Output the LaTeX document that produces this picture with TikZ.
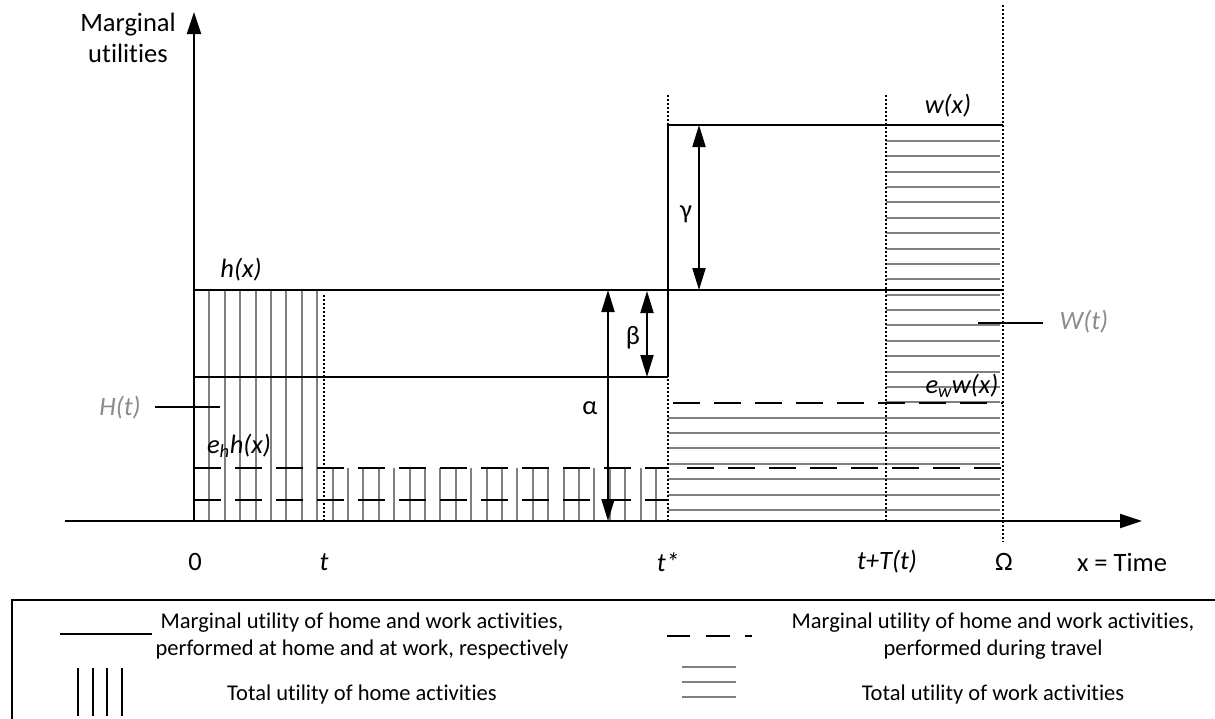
\documentclass[tikz,border=0pt]{standalone}
\usepackage{fontspec}
\setmainfont{Carlito}[Ligatures={NoCommon,NoContextual,NoRequired}]
\usetikzlibrary{arrows.meta}
\definecolor{hatch}{RGB}{128,128,128}
\definecolor{lbl}{RGB}{140,140,140}
\begin{document}
\begin{tikzpicture}[x=1pt,y=-1pt,
  ax/.style={line width=2pt,-{Triangle[width=14pt,length=22pt]}},
  dbl/.style={line width=2pt,{Triangle[width=13pt,length=22pt]}-{Triangle[width=13pt,length=22pt]}},
  mu/.style={line width=1.8pt},
  trav/.style={line width=1.8pt,dash pattern=on 27pt off 14pt},
  hv/.style={hatch,line width=2pt},
  dotl/.style={line width=1.6pt,dash pattern=on 2pt off 2pt},
  lab/.style={font=\fontsize{26.5}{31}\selectfont,inner sep=0pt},
  ilab/.style={font=\fontsize{26.5}{31}\selectfont\itshape,inner sep=0pt},
  leg/.style={font=\fontsize{22.5}{27}\selectfont,inner sep=0pt,align=center}]
\useasboundingbox (0,0) rectangle (1215,718);
% hatching home
\foreach \k in {1,...,8} \draw[hv] ({194+15.4*\k},290) -- ({194+15.4*\k},521);
\foreach \k in {9,...,30} \draw[hv] ({194+15.4*\k},468) -- ({194+15.4*\k},521);
% hatching work
\foreach \k in {0,...,17} \draw[hv] (886,{141+15.37*\k}) -- (1000,{141+15.37*\k});
\foreach \k in {18,...,24} \draw[hv] (668,{141+15.37*\k}) -- (1000,{141+15.37*\k});
% marginal utility lines
\draw[mu] (194,290) -- (1003,290);
\draw[mu] (194,377) -- (668,377);
\draw[mu] (668,125) -- (1003,125);
\draw[mu] (668,125) -- (668,377);
% travel lines
\draw[trav] (194,468) -- (668,468);
\draw[trav] (194,500) -- (668,500);
\draw[trav] (673,403) -- (1003,403);
\draw[trav] (687,468) -- (1003,468);
% dotted verticals
\draw[dotl] (324,295) -- (324,521);
\draw[dotl] (668,95) -- (668,521);
\draw[dotl] (886,95) -- (886,521);
\draw[dotl] (1003,5) -- (1003,542);
% axes
\coordinate (o) at (194,521);
\coordinate (ytip) at (194,12);
\coordinate (xstart) at (65,521);
\coordinate (xtip) at (1142,521);
\draw[ax] (o) -- (ytip);
\draw[ax] (xstart) -- (xtip);
% measure arrows
\coordinate (a1) at (608,290); \coordinate (a2) at (608,521);
\coordinate (b1) at (647,291); \coordinate (b2) at (647,377);
\coordinate (g1) at (699,125); \coordinate (g2) at (699,290);
\draw[dbl] (a1) -- (a2);
\draw[dbl] (b1) -- (b2);
\draw[dbl] (g1) -- (g2);
\node[lab] (alpha) at (590,408) {α};
\node[lab] (beta) at (633,338) {β};
\node[lab] (gamma) at (686,214) {γ};
% labels
\node[lab,align=center] (ylab) at (128,38) {Marginal\\utilities};
\node[ilab] (hx) at (241,270) {h(x)};
\node[ilab] (wx) at (948,106) {w(x)};
\node[ilab] (ehhx) at (239,446) {e\textsubscript{h}h(x)};
\node[ilab] (ewwx) at (962,386) {e\textsubscript{w}w(x)};
\node[ilab,text=lbl] (Ht) at (120,408) {H(t)};
\node[ilab,text=lbl] (Wt) at (1084,322) {W(t)};
\coordinate (Hs) at (155,407);
\coordinate (Hl) at (220,407);
\coordinate (Wl) at (978,323);
\coordinate (Ws) at (1043,323);
\draw[line width=1.6pt] (Hs) -- (Hl);
\draw[line width=1.6pt] (Wl) -- (Ws);
% tick labels
\node[lab] (t0) at (195,562) {0};
\node[ilab] (tt) at (324,562) {t};
\node[ilab] (ts) at (668,562) {t*};
\node[ilab] (tT) at (887,562) {t+T(t)};
\node[lab] (om) at (1004,562) {Ω};
\node[lab] (xt) at (1122,562) {x = Time};
% legend
\draw[line width=1.8pt] (12,600) rectangle (1230,740);
\draw[line width=1.8pt] (60,634) -- (152,634);
\foreach \x in {78,93,107,122} \draw[line width=2pt] (\x,668) -- (\x,716);
\draw[line width=1.8pt] (667,636) -- (690,636) (706,636) -- (730,636) (745,636) -- (752,636);
\foreach \y in {667,682,697} \draw[hv] (682,\y) -- (736,\y);
\node[leg] (l1) at (362,636) {Marginal utility of home and work activities,\\performed at home and at work, respectively};
\node[leg] (l2) at (362,694) {Total utility of home activities};
\node[leg] (l3) at (993,636) {Marginal utility of home and work activities,\\performed during travel};
\node[leg] (l4) at (993,694) {Total utility of work activities};
\end{tikzpicture}
\end{document}
